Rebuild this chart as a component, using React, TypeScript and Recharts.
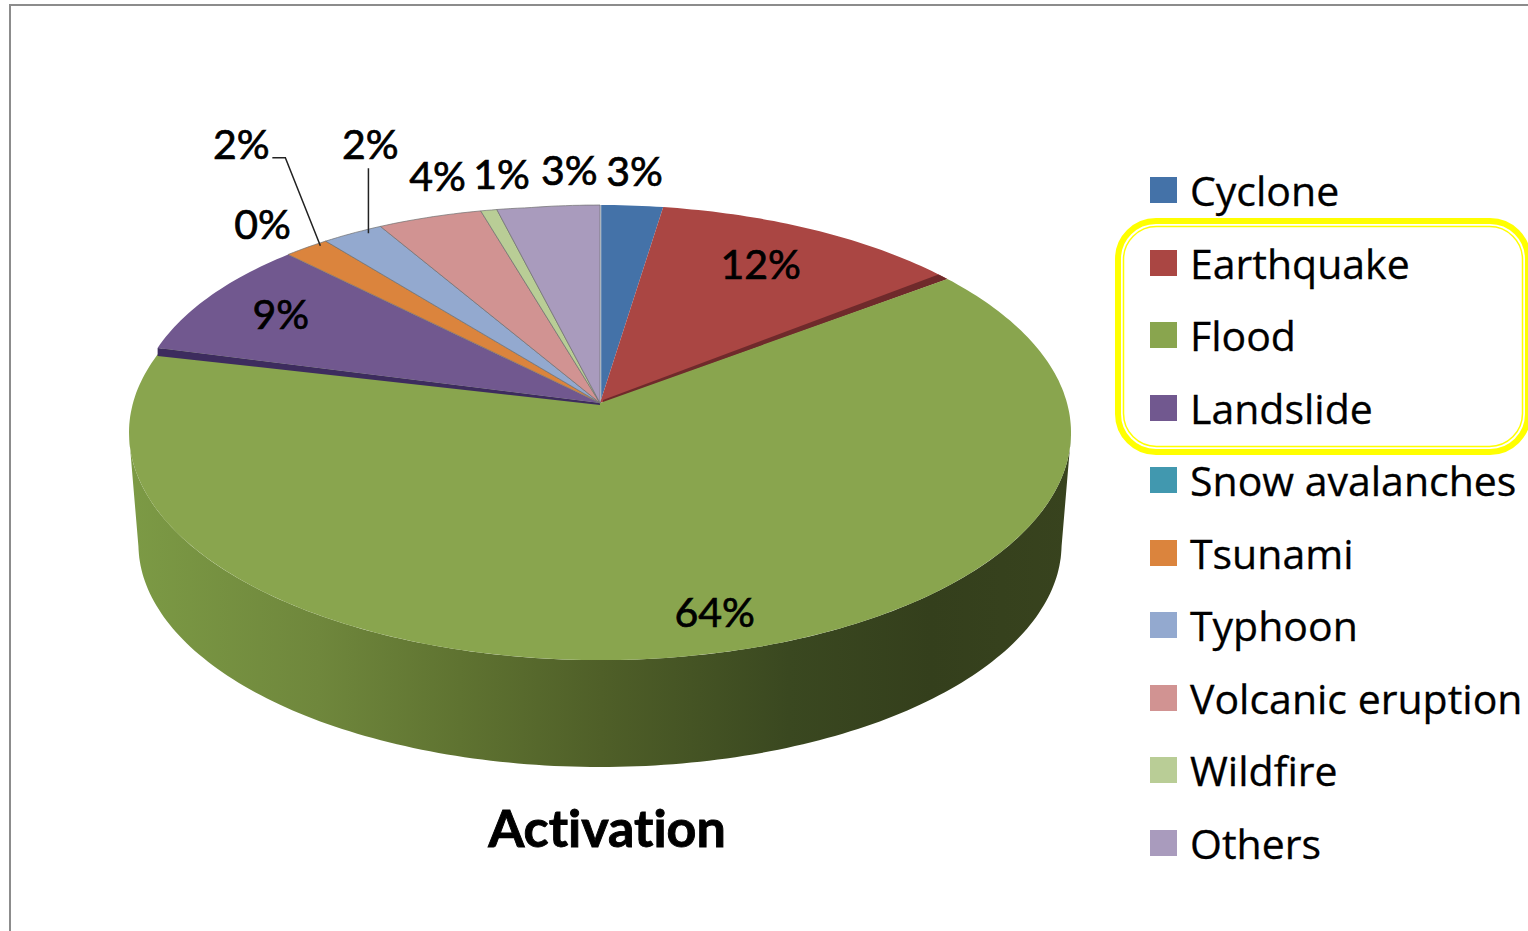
import { Legend, Pie, PieChart } from "recharts";

const names = ["Cyclone", "Earthquake", "Flood", "Landslide", "Snow avalanches", "Tsunami", "Typhoon", "Volcanic eruption", "Wildfire", "Others"];
const values = [2.44, 12.36, 64.25, 8.4, 0, 1.7, 2.3, 3.95, 0.62, 3.98];
const printed = ["3%", "12%", "64%", "9%", "0%", "2%", "2%", "4%", "1%", "3%"];
const colors = ["#4472a8", "#aa4643", "#89a54e", "#71588f", "#4198af", "#db843d", "#93a9cf", "#d19392", "#b9cd96", "#a99bbd"];

const data = names.map((name, i) => ({ name, value: values[i], fill: colors[i] }));

// label nudges from the rim point of each slice
const labelNudge = [[3, -35], [-56, 33], [12, -43], [62, 15], [-34, -35], [-73, -108], [12, -94], [5, -44], [12, -38], [21, -37]];

const FONT = "Lato, sans-serif";
const LEGEND_FONT = "'Open Sans', sans-serif";
const SQUASH = 0.479;
const TILT = 0.13;
const WALL_DROP = 112;
const WALL_SCALE = 0.98;

// pie angle (degrees) -> point on the tilted disc
const rim = (cx: number, cy: number, r: number, deg: number) => {
  const u = Math.cos((deg * Math.PI) / 180);
  const v = Math.sin((deg * Math.PI) / 180);
  const d = 1 + TILT * v;
  return [cx + (r * u) / d, cy - (r * SQUASH * v) / d];
};

// the small back-left slices sit a little proud of the disc
const bulge = (deg: number) => {
  const c = ((90 - deg) % 360 + 360) % 360;
  return c > 275 && c < 350 ? 1 + 0.028 * Math.sin((Math.PI * (c - 275)) / 75) : 1;
};

const arcPoints = (cx: number, cy: number, r: number, from: number, to: number, proud = false) => {
  const steps = Math.max(1, Math.ceil(Math.abs(from - to)));
  const pts = [];
  for (let i = 0; i <= steps; i++) {
    const deg = from + ((to - from) * i) / steps;
    pts.push(rim(cx, cy, proud ? r * bulge(deg) : r, deg));
  }
  return pts;
};

const toPath = (pts: number[][]) => "M" + pts.map((p) => p[0].toFixed(1) + "," + p[1].toFixed(1)).join("L") + "Z";

const PieSlice = (props: any) => {
  const { cx, cy, outerRadius, startAngle, endAngle, fill, name } = props;
  if (Math.abs(startAngle - endAngle) < 0.01) return <g />;
  const top = toPath([[cx, cy], ...arcPoints(cx, cy, outerRadius, startAngle, endAngle, name !== "Flood")]);
  const hairline = ["Tsunami", "Typhoon", "Volcanic eruption", "Wildfire", "Others"].includes(name);

  let wall = null;
  if (name === "Flood") {
    const a = Math.min(startAngle, -8);
    const b = Math.max(endAngle, -172);
    const lower = arcPoints(cx, cy + WALL_DROP, outerRadius * WALL_SCALE, b, a);
    wall = <path d={toPath([...arcPoints(cx, cy, outerRadius, a, b), ...lower])} fill="url(#floodWall)" />;
  }

  let cut = null;
  if (name === "Earthquake") {
    const p = rim(cx, cy, outerRadius, endAngle);
    const q = rim(cx, cy, outerRadius, endAngle + 1.7);
    cut = <path d={toPath([[cx + 3, cy], p, q, [cx + 3, cy - 3]])} fill="#6f2a2b" />;
  }
  if (name === "Landslide") {
    const p = rim(cx, cy, outerRadius * bulge(startAngle), startAngle);
    cut = <path d={toPath([[cx, cy], p, [p[0], p[1] + 8], [cx, cy + 2]])} fill="#3d2c5e" />;
  }

  return (
    <g>
      {wall}
      <path d={top} fill={fill} stroke={hairline ? "#6f6f6f" : "none"} strokeOpacity={0.7} strokeWidth={1} />
      {cut}
      {name === "Cyclone" && <line x1={cx} y1={cy} x2={cx} y2={cy - outerRadius * SQUASH / (1 + TILT)} stroke="#cdd8e6" strokeWidth={2.5} />}
    </g>
  );
};

const PieLabel = (props: any) => {
  const { cx, cy, midAngle, outerRadius, index } = props;
  const p = rim(cx, cy, outerRadius, midAngle);
  const x = p[0] + labelNudge[index][0];
  const y = p[1] + labelNudge[index][1];
  return (
    <g>
      {names[index] === "Tsunami" && (
        <path d={`M${x + 79},${y + 102}L${x + 44},${y + 14}L${x + 31},${y + 14}`} fill="none" stroke="#222" strokeWidth={1.5} />
      )}
      {names[index] === "Typhoon" && (
        <path d={`M${x - 2},${y + 90}L${x - 2},${y + 25}`} fill="none" stroke="#222" strokeWidth={1.5} />
      )}
      <text x={x} y={y} textAnchor="middle" dominantBaseline="central" fontFamily={FONT} fontSize={41} fill="#000" stroke="#000" strokeWidth={0.7}>
        {printed[index]}
      </text>
    </g>
  );
};

const LegendList = ({ payload }: any) => (
  <div style={{ fontFamily: LEGEND_FONT, fontSize: 41, color: "#000", WebkitTextStroke: "0.3px #000" }}>
    {(payload || []).map((item: any) => (
      <div key={item.value} style={{ height: 72.5, display: "flex", alignItems: "center" }}>
        <span style={{ width: 27, height: 26, marginRight: 13, background: item.color, display: "inline-block" }} />
        <span style={{ whiteSpace: "nowrap" }}>{item.value}</span>
      </div>
    ))}
  </div>
);

export default function App() {
  return (
    <div style={{ position: "absolute", left: 0, top: 0, width: 1528, height: 931, background: "#fff", overflow: "hidden" }}>
      <PieChart width={1528} height={931} margin={{ top: 0, right: 0, bottom: 0, left: 0 }}>
        <defs>
          <linearGradient id="floodWall" gradientUnits="userSpaceOnUse" x1={130} y1={0} x2={1072} y2={0}>
            <stop offset="0" stopColor="#7c9a45" />
            <stop offset="0.2" stopColor="#6f873c" />
            <stop offset="0.35" stopColor="#5f7331" />
            <stop offset="0.5" stopColor="#4f5f28" />
            <stop offset="0.7" stopColor="#3a4820" />
            <stop offset="0.85" stopColor="#343f1c" />
            <stop offset="1" stopColor="#38431e" />
          </linearGradient>
        </defs>
        <path d="M10,931L10,5L1528,5" fill="none" stroke="#8c8c8c" strokeWidth={2} />
        <Pie
          data={data}
          dataKey="value"
          nameKey="name"
          cx={600}
          cy={403}
          outerRadius={467}
          startAngle={90}
          endAngle={-270}
          shape={PieSlice}
          label={PieLabel}
          labelLine={false}
          stroke="none"
          isAnimationActive={false}
        />
        <rect x={1118} y={221} width={410} height={231} rx={38} fill="none" stroke="#ffff00" strokeWidth={6} />
        <rect x={1123.5} y={226.5} width={399} height={220} rx={33} fill="none" stroke="#ffff00" strokeWidth={1.5} />
        <text
          x={607}
          y={827}
          textAnchor="middle"
          dominantBaseline="central"
          fontFamily={FONT}
          fontWeight={700}
          fontSize={52}
          fill="#000"
          stroke="#000"
          strokeWidth={0.9}
          style={{ fontVariantLigatures: "none" }}
        >
          Activation
        </text>
        <Legend
          layout="vertical"
          align="right"
          verticalAlign="middle"
          itemSorter={null}
          content={LegendList}
          wrapperStyle={{ position: "absolute", left: 1150, top: 154, width: 378, height: 725 }}
        />
      </PieChart>
    </div>
  );
}
